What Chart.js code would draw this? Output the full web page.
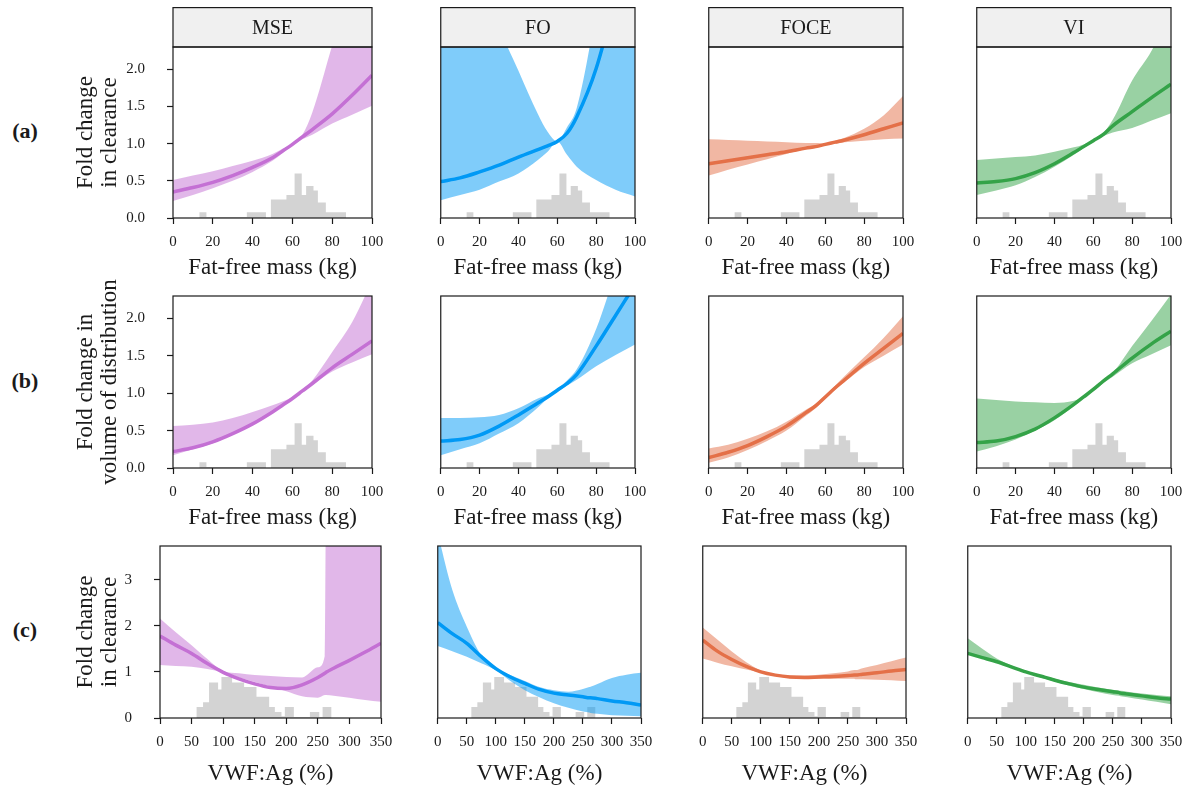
<!DOCTYPE html>
<html>
<head>
<meta charset="utf-8">
<script src="https://cdn.jsdelivr.net/npm/chart.js@4"></script>
<style>
  body { margin: 0; background: #fff; width: 1190px; height: 789px; position: relative; overflow: hidden; }
  canvas { position: absolute; }
  .tag { position: absolute; width: 50px; margin-left: -25px; text-align: center; font: bold 22px "Liberation Serif", serif; color: #1a1a1a; line-height: 24px; margin-top: -12px; }
</style>
</head>
<body>
<div class="tag" style="left:25px;top:131px">(a)</div>
<div class="tag" style="left:25px;top:381px">(b)</div>
<div class="tag" style="left:25px;top:630px">(c)</div>
<script>
// x grids (kg and %)
const ffmX = [0, 10, 20, 30, 40, 50, 55, 60, 65, 70, 80, 90, 100];
const vwfX = [0, 25, 50, 75, 100, 125, 150, 175, 200, 225, 250, 261, 263, 275, 300, 325, 350];

// histograms (bin edges + scaled heights, last height closes the outline)
const ffmBinEdges = [13.2, 16.8, 37.1, 40.9, 46.7, 49.2, 52.9, 57.0, 61.1, 64.7, 66.9, 70.6, 72.8, 76.8, 80.0, 83.5, 87.0];
const ffmBinHeights = [0.077, 0.015, 0.077, 0.077, 0, 0.25, 0.25, 0.31, 0.60, 0.31, 0.43, 0.37, 0.21, 0.077, 0.077, 0.077, 0];
const vwfBinEdges = [57.6, 68.2, 77.7, 92.0, 97.3, 114.2, 133.2, 152.8, 172.9, 181.9, 192.4, 197.7, 212.0, 237.4, 252.2, 257.5, 271.7];
const vwfBinHeights = [0.24, 0.34, 0.77, 0.62, 0.89, 0.77, 0.67, 0.46, 0.24, 0.13, 0.04, 0.24, 0.02, 0.13, 0.02, 0.24, 0];

// (a) fold change in clearance vs fat-free mass
const clMseMid  = [0.35, 0.41, 0.48, 0.57, 0.68, 0.81, 0.90, 0.99, 1.09, 1.19, 1.40, 1.65, 1.92];
const clMseLow  = [0.23, 0.31, 0.40, 0.50, 0.62, 0.77, 0.87, 0.98, 1.06, 1.12, 1.27, 1.39, 1.51];
const clMseHigh = [0.51, 0.57, 0.63, 0.70, 0.77, 0.86, 0.93, 1.00, 1.12, 1.42, 2.32, 3.2, 4.0];
const clFoMid   = [0.49, 0.54, 0.62, 0.71, 0.82, 0.92, 0.97, 1.03, 1.14, 1.36, 2.01, 3.0, 4.2];
const clFoLow   = [0.24, 0.31, 0.38, 0.49, 0.60, 0.78, 0.89, 1.03, 0.85, 0.69, 0.51, 0.38, 0.29];
const clFoHigh  = [7.0, 5.0, 3.6, 2.6, 1.98, 1.40, 1.16, 1.03, 1.22, 1.48, 2.8, 4.5, 7.0];
const clFoceMid  = [0.73, 0.77, 0.81, 0.85, 0.89, 0.94, 0.96, 0.99, 1.02, 1.05, 1.12, 1.20, 1.28];
const clFoceLow  = [0.57, 0.65, 0.72, 0.79, 0.86, 0.93, 0.95, 0.98, 1.00, 1.02, 1.04, 1.06, 1.07];
const clFoceHigh = [1.06, 1.05, 1.04, 1.03, 1.02, 1.01, 1.01, 1.00, 1.04, 1.08, 1.20, 1.38, 1.64];
const clViMid   = [0.47, 0.49, 0.53, 0.61, 0.73, 0.88, 0.96, 1.04, 1.12, 1.24, 1.43, 1.62, 1.80];
const clViLow   = [0.31, 0.37, 0.44, 0.55, 0.69, 0.85, 0.94, 1.03, 1.10, 1.15, 1.21, 1.31, 1.41];
const clViHigh  = [0.78, 0.80, 0.82, 0.84, 0.89, 0.95, 0.99, 1.05, 1.14, 1.32, 1.85, 2.25, 2.8];

// (b) fold change in volume of distribution vs fat-free mass
const vMseMid  = [0.22, 0.27, 0.35, 0.46, 0.59, 0.75, 0.84, 0.93, 1.03, 1.13, 1.34, 1.52, 1.70];
const vMseLow  = [0.17, 0.25, 0.33, 0.45, 0.58, 0.74, 0.83, 0.92, 1.02, 1.11, 1.29, 1.41, 1.52];
const vMseHigh = [0.56, 0.58, 0.61, 0.67, 0.75, 0.84, 0.89, 0.95, 1.04, 1.17, 1.55, 1.95, 2.5];
const vFoMid   = [0.36, 0.38, 0.44, 0.56, 0.71, 0.87, 0.95, 1.04, 1.13, 1.25, 1.63, 2.04, 2.45];
const vFoLow   = [0.17, 0.25, 0.33, 0.46, 0.60, 0.81, 0.93, 1.02, 1.10, 1.18, 1.36, 1.51, 1.65];
const vFoHigh  = [0.67, 0.67, 0.68, 0.71, 0.80, 0.93, 0.98, 1.06, 1.17, 1.32, 1.86, 2.6, 3.2];
const vFoceMid  = [0.14, 0.21, 0.30, 0.42, 0.56, 0.74, 0.83, 0.95, 1.07, 1.18, 1.40, 1.60, 1.80];
const vFoceLow  = [0.07, 0.14, 0.24, 0.36, 0.50, 0.70, 0.80, 0.93, 1.05, 1.15, 1.35, 1.50, 1.65];
const vFoceHigh = [0.26, 0.31, 0.39, 0.49, 0.62, 0.78, 0.86, 0.97, 1.10, 1.23, 1.48, 1.74, 2.03];
const vViMid   = [0.34, 0.36, 0.42, 0.52, 0.67, 0.85, 0.95, 1.05, 1.16, 1.26, 1.47, 1.66, 1.83];
const vViLow   = [0.22, 0.29, 0.38, 0.50, 0.64, 0.83, 0.93, 1.03, 1.13, 1.22, 1.40, 1.52, 1.64];
const vViHigh  = [0.93, 0.91, 0.89, 0.88, 0.87, 0.90, 0.95, 1.07, 1.17, 1.27, 1.63, 1.97, 2.32];

// (c) fold change in clearance vs VWF:Ag
const cMseMid  = [1.78, 1.58, 1.40, 1.18, 0.99, 0.85, 0.74, 0.66, 0.64, 0.72, 0.88, 0.97, 0.99, 1.08, 1.25, 1.43, 1.62];
const cMseLow  = [1.15, 1.13, 1.11, 1.06, 0.99, 0.88, 0.78, 0.68, 0.58, 0.47, 0.44, 0.50, 0.50, 0.48, 0.44, 0.39, 0.35];
const cMseHigh = [2.16, 1.86, 1.58, 1.28, 1.02, 0.97, 0.93, 0.91, 0.89, 0.88, 1.10, 1.35, 5.0, 6.0, 6.0, 6.0, 6.0];
const cFoMid   = [2.07, 1.83, 1.62, 1.33, 1.07, 0.89, 0.75, 0.62, 0.54, 0.50, 0.46, 0.44, 0.44, 0.42, 0.37, 0.33, 0.28];
const cFoLow   = [1.56, 1.45, 1.33, 1.19, 1.04, 0.80, 0.60, 0.45, 0.32, 0.22, 0.14, 0.12, 0.11, 0.09, 0.06, 0.05, 0.04];
const cFoHigh  = [4.0, 2.78, 1.98, 1.36, 1.07, 0.93, 0.80, 0.67, 0.60, 0.57, 0.63, 0.67, 0.68, 0.74, 0.87, 0.94, 0.98];
const cFoceMid  = [1.69, 1.45, 1.27, 1.12, 1.00, 0.93, 0.89, 0.88, 0.89, 0.90, 0.92, 0.93, 0.93, 0.95, 0.98, 1.02, 1.05];
const cFoceLow  = [1.29, 1.20, 1.12, 1.05, 0.98, 0.91, 0.86, 0.85, 0.85, 0.85, 0.85, 0.85, 0.84, 0.84, 0.83, 0.82, 0.80];
const cFoceHigh = [1.96, 1.70, 1.44, 1.21, 1.03, 0.95, 0.92, 0.92, 0.94, 0.97, 1.01, 1.04, 1.04, 1.08, 1.15, 1.23, 1.31];
const cViMid   = [1.40, 1.31, 1.22, 1.11, 1.00, 0.91, 0.82, 0.74, 0.67, 0.62, 0.57, 0.55, 0.54, 0.52, 0.48, 0.44, 0.41];
const cViLow   = [1.38, 1.29, 1.20, 1.09, 0.98, 0.88, 0.79, 0.70, 0.63, 0.56, 0.50, 0.48, 0.47, 0.45, 0.40, 0.35, 0.30];
const cViHigh  = [1.73, 1.50, 1.29, 1.14, 1.02, 0.93, 0.85, 0.78, 0.72, 0.66, 0.61, 0.59, 0.59, 0.57, 0.53, 0.50, 0.47];

const modelNames = ['MSE', 'FO', 'FOCE', 'VI'];

const FONT = '"Liberation Serif", "Times New Roman", serif';
const INK = '#1a1a1a';
const modelRgb = ['196,112,212', '0,153,245', '228,112,72', '52,163,72'];

const rows = [
    {
        x: ffmX, edges: ffmBinEdges, heights: ffmBinHeights,
        series: [[clMseLow, clMseMid, clMseHigh], [clFoLow, clFoMid, clFoHigh], [clFoceLow, clFoceMid, clFoceHigh], [clViLow, clViMid, clViHigh]],
        yMax: 2.3, yStep: 0.5, yDigits: 1, xMax: 100, xStep: 20,
        xTitle: 'Fat-free mass (kg)', yTitle: ['Fold change', 'in clearance'],
        top: 47, bottom: 218, lefts: [173, 436, 704, 972], rights: [372, 635, 903, 1171], titleGap: 8
    },
    {
        x: ffmX, edges: ffmBinEdges, heights: ffmBinHeights,
        series: [[vMseLow, vMseMid, vMseHigh], [vFoLow, vFoMid, vFoHigh], [vFoceLow, vFoceMid, vFoceHigh], [vViLow, vViMid, vViHigh]],
        yMax: 2.3, yStep: 0.5, yDigits: 1, xMax: 100, xStep: 20,
        xTitle: 'Fat-free mass (kg)', yTitle: ['Fold change in', 'volume of distribution'],
        top: 296, bottom: 468, lefts: [173, 436, 704, 972], rights: [372, 635, 903, 1171], titleGap: 8
    },
    {
        x: vwfX, edges: vwfBinEdges, heights: vwfBinHeights,
        series: [[cMseLow, cMseMid, cMseHigh], [cFoLow, cFoMid, cFoHigh], [cFoceLow, cFoceMid, cFoceHigh], [cViLow, cViMid, cViHigh]],
        yMax: 3.73, yStep: 1, yDigits: 0, xMax: 350, xStep: 50,
        xTitle: 'VWF:Ag (%)', yTitle: ['Fold change', 'in clearance'],
        top: 546, bottom: 718, lefts: [160, 433, 698, 963], rights: [381, 641, 906, 1171], titleGap: 2
    }
];

const framePlugin = {
    id: 'frame',
    afterDraw(chart, args, opts) {
        const { ctx, chartArea: a } = chart;
        ctx.save();
        ctx.strokeStyle = INK;
        ctx.lineWidth = 1.2;
        if (opts.header) {
            const h = 39.4;
            ctx.fillStyle = '#f0f0f0';
            ctx.fillRect(a.left, a.top - h, a.right - a.left, h);
            ctx.strokeRect(a.left, a.top - h, a.right - a.left, h);
            ctx.fillStyle = INK;
            ctx.font = '20px ' + FONT;
            ctx.textAlign = 'center';
            ctx.textBaseline = 'middle';
            ctx.fillText(opts.header, (a.left + a.right) / 2, a.top - h / 2 + 1);
        }
        ctx.strokeRect(a.left, a.top, a.right - a.left, a.bottom - a.top);
        ctx.restore();
    }
};

function toPoints(xs, ys) {
    return xs.map((x, i) => ({ x: x, y: ys[i] }));
}

function makePanel(r, rowIdx, col) {
    const plotLeft = r.lefts[col], plotRight = r.rights[col];
    const L = col === 0 ? plotLeft - 74 : 8;
    const R = 22;
    // chart.js pads the top by half a label + tick padding, so keep room for it
    const T = rowIdx === 0 ? r.top : 34;
    const B = 70;
    const canvas = document.createElement('canvas');
    canvas.width = L + (plotRight - plotLeft) + R;
    canvas.height = T + (r.bottom - r.top) + B;
    canvas.style.left = (plotLeft - L) + 'px';
    canvas.style.top = (r.top - T) + 'px';
    document.body.appendChild(canvas);

    const [low, mid, high] = r.series[col];
    const rgb = modelRgb[col];
    const tickFont = { family: FONT, size: 15 };
    const titleFont = { family: FONT, size: 23, lineHeight: 1.05 };

    new Chart(canvas, {
        type: 'line',
        data: {
            datasets: [{
                data: toPoints(r.edges, r.heights),
                stepped: true,
                fill: 'origin',
                backgroundColor: '#d3d3d3',
                borderColor: 'transparent',
                borderWidth: 0,
                order: 4
            }, {
                data: toPoints(r.x, low),
                fill: false,
                borderColor: 'transparent',
                borderWidth: 0,
                cubicInterpolationMode: 'monotone',
                order: 3
            }, {
                data: toPoints(r.x, high),
                fill: 1,
                backgroundColor: 'rgba(' + rgb + ',0.5)',
                borderColor: 'transparent',
                borderWidth: 0,
                cubicInterpolationMode: 'monotone',
                order: 2
            }, {
                data: toPoints(r.x, mid),
                fill: false,
                borderColor: 'rgb(' + rgb + ')',
                borderWidth: 3.5,
                cubicInterpolationMode: 'monotone',
                clip: 0,
                order: 1
            }]
        },
        options: {
            responsive: false,
            animation: false,
            devicePixelRatio: 1,
            events: [],
            layout: { padding: { left: 0, right: R, top: T, bottom: 0 } },
            elements: { point: { radius: 0 } },
            plugins: {
                legend: { display: false },
                tooltip: { enabled: false },
                frame: { header: rowIdx === 0 ? modelNames[col] : null }
            },
            scales: {
                x: {
                    type: 'linear', min: 0, max: r.xMax,
                    afterFit: s => { s.height = B; },
                    ticks: { stepSize: r.xStep, padding: 9, color: INK, font: tickFont, maxRotation: 0, autoSkip: false },
                    grid: { drawOnChartArea: false, tickLength: 6, color: INK, tickWidth: 1.2 },
                    border: { display: false },
                    title: { display: true, text: r.xTitle, color: INK, font: titleFont, padding: { top: 0, bottom: r.titleGap } }
                },
                y: {
                    type: 'linear', min: 0, max: r.yMax,
                    afterFit: s => { s.width = L; },
                    ticks: {
                        display: col === 0, stepSize: r.yStep, includeBounds: false, padding: 22,
                        color: INK, font: tickFont,
                        callback: v => v.toFixed(r.yDigits)
                    },
                    grid: { display: col === 0, drawOnChartArea: false, tickLength: 6, color: INK, tickWidth: 1.2 },
                    border: { display: false },
                    title: { display: col === 0, text: r.yTitle, color: INK, font: titleFont, padding: { top: 0, bottom: 0 } }
                }
            }
        },
        plugins: [framePlugin]
    });
}

rows.forEach((r, i) => {
    for (let c = 0; c < 4; c++) makePanel(r, i, c);
});
</script>
</body>
</html>
